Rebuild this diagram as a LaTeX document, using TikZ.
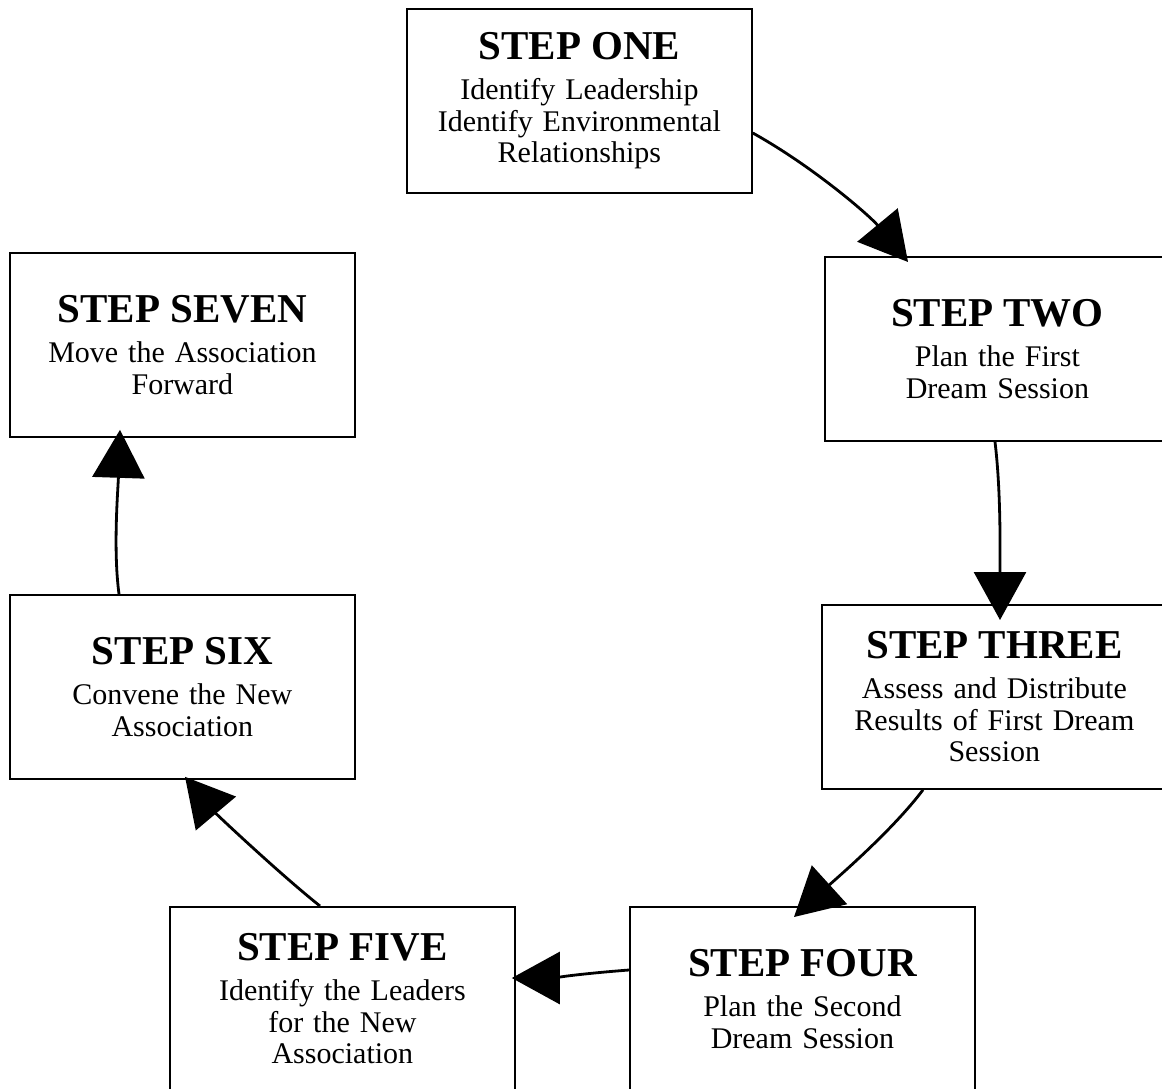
\documentclass[tikz,border=0pt]{standalone}
\usepackage{fontspec}
\setmainfont{Liberation Serif}
\usetikzlibrary{arrows.meta}
\tikzset{
  stepbox/.style={draw, line width=1.8pt, minimum width=345pt, minimum height=184pt,
    inner sep=0pt, anchor=north west, text width=340pt, align=center,
    font=\fontsize{30}{31.5}\selectfont},
  conn/.style={line width=2.8pt, -{Triangle[length=48pt,width=52pt]}}
}
\newcommand\steptitle[1]{{\fontsize{41}{41}\selectfont\bfseries #1}\\[8.5pt]}
\begin{document}
\begin{tikzpicture}[x=1pt,y=-1pt]
\useasboundingbox (0,0) rectangle (1162,1088);
\fill[white] (0,0) rectangle (1162,1088);
\clip (0,0) rectangle (1162,1088);

\node[stepbox] (one) at (406,8) {\steptitle{STEP ONE}Identify Leadership\\Identify Environmental\\Relationships};
\node[stepbox] (two) at (824,256) {\steptitle{STEP TWO}Plan the First\\Dream Session};
\node[stepbox] (three) at (821,604) {\steptitle{STEP THREE}Assess and Distribute\\Results of First Dream\\Session};
\node[stepbox] (four) at (629,906) {\steptitle{STEP FOUR}Plan the Second\\Dream Session};
\node[stepbox] (five) at (169,906) {\steptitle{STEP FIVE}Identify the Leaders\\for the New\\Association};
\node[stepbox] (six) at (9,594) {\steptitle{STEP SIX}Convene the New\\Association};
\node[stepbox] (seven) at (9,252) {\steptitle{STEP SEVEN}Move the Association\\Forward};

\draw[conn] ([yshift=-125pt]one.north east) .. controls +(61,34) and +(-38,-46) .. ([xshift=84pt,yshift=-6pt]two.north west);
\draw[conn] ([xshift=171pt]two.south west) .. controls +(6,50) and +(0,-70) .. ([xshift=179pt,yshift=-16pt]three.north west);
\draw[conn] ([xshift=102pt]three.south west) .. controls +(-30,40) and +(44,-40) .. ([xshift=165pt,yshift=-11pt]four.north west);
\draw[conn] ([yshift=-64pt]four.north west) .. controls +(-40,3) and +(35,0) .. ([xshift=-4pt,yshift=-72pt]five.north east);
\draw[conn] ([xshift=151pt]five.north west) .. controls +(-39,-31) and +(32,38) .. ([xshift=176pt,yshift=3pt]six.south west);
\draw[conn] ([xshift=110pt]six.north west) .. controls +(-6,-45) and +(-2,60) .. ([xshift=111pt,yshift=8pt]seven.south west);
\end{tikzpicture}
\end{document}
